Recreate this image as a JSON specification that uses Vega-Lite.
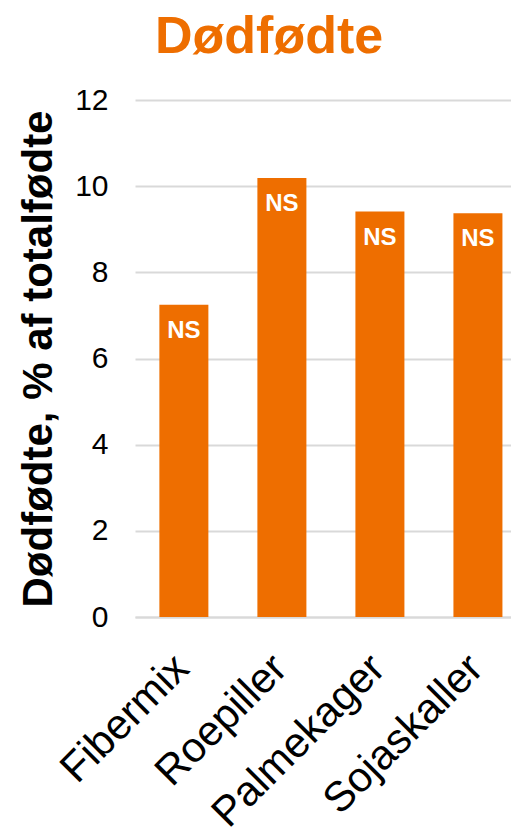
{
  "$schema": "https://vega.github.io/schema/vega-lite/v6.json",
  "width": 376,
  "height": 517,
  "autosize": {"type": "none"},
  "padding": {"left": 135, "top": 100, "right": 0, "bottom": 210},
  "background": "white",
  "config": {"view": {"stroke": null}, "font": "Liberation Sans"},
  "title": {
    "text": "Dødfødte",
    "anchor": "start",
    "frame": "group",
    "dx": 20,
    "dy": 40,
    "offset": 20,
    "baseline": "alphabetic",
    "font": "Liberation Sans",
    "fontSize": 52,
    "fontWeight": "bold",
    "color": "#EE6E00"
  },
  "data": {
    "values": [
      {"foder": "Fibermix", "dodfodte": 7.25, "sig": "NS"},
      {"foder": "Roepiller", "dodfodte": 10.19, "sig": "NS"},
      {"foder": "Palmekager", "dodfodte": 9.41, "sig": "NS"},
      {"foder": "Sojaskaller", "dodfodte": 9.37, "sig": "NS"}
    ]
  },
  "encoding": {
    "x": {
      "field": "foder",
      "type": "nominal",
      "sort": null,
      "scale": {"paddingInner": 0.5, "paddingOuter": 0.168, "align": 0.74},
      "axis": {
        "title": null,
        "labelAngle": -45,
        "labelFontSize": 42,
        "labelColor": "#000000",
        "labelFont": "Liberation Sans",
        "labelPadding": 30,
        "labelOffset": -16,
        "labelLimit": 400,
        "labelOverlap": false,
        "ticks": false,
        "domainColor": "#D9D9D9",
        "domainWidth": 2,
        "grid": false
      }
    },
    "y": {
      "field": "dodfodte",
      "type": "quantitative",
      "scale": {"domain": [0, 12], "nice": false},
      "axis": {
        "title": "Dødfødte,  % af totalfødte",
        "titleFontSize": 42,
        "titleFont": "Liberation Sans",
        "titleFontWeight": "bold",
        "titleColor": "#000000",
        "titlePadding": 14,
        "values": [0, 2, 4, 6, 8, 10, 12],
        "labelFontSize": 30,
        "labelColor": "#000000",
        "labelFont": "Liberation Sans",
        "labelPadding": 27,
        "ticks": false,
        "domain": false,
        "gridColor": "#D9D9D9",
        "gridWidth": 2
      }
    }
  },
  "layer": [
    {"mark": {"type": "bar", "color": "#EE6E00"}},
    {
      "mark": {
        "type": "text",
        "color": "white",
        "fontSize": 24,
        "fontWeight": "bold",
        "font": "Liberation Sans",
        "baseline": "middle",
        "dy": 26
      },
      "encoding": {"text": {"field": "sig"}}
    }
  ]
}
